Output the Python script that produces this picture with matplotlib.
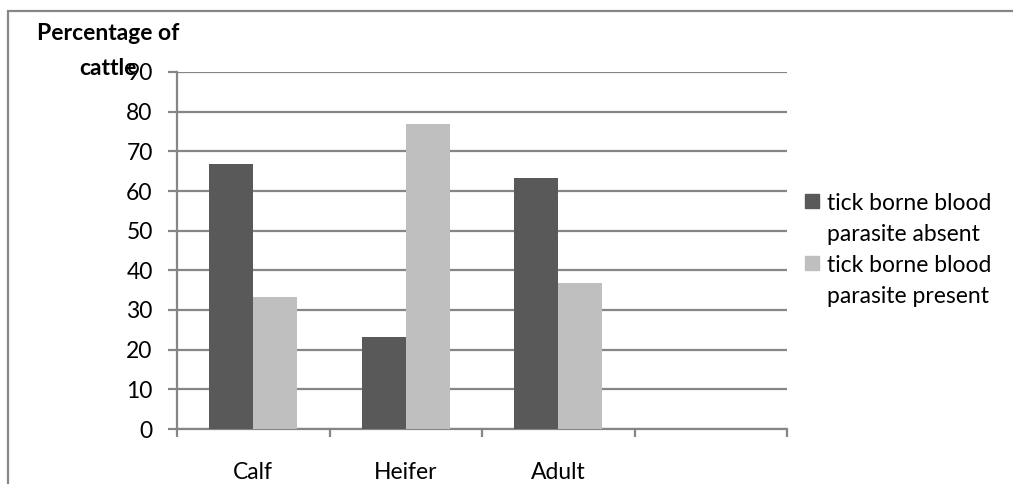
import matplotlib
matplotlib.use("Agg")
import matplotlib.pyplot as plt
from matplotlib.patches import Rectangle
import numpy as np

plt.rcParams['font.family'] = ['Lato', 'DejaVu Sans']

categories = ["Calf", "Heifer", "Adult", ""]
absent = [66.7, 23.1, 63.3]
present = [33.3, 76.9, 36.7]
series_labels = ["tick borne blood\nparasite absent", "tick borne blood\nparasite present"]
series_colors = ["#595959", "#BFBFBF"]
yticks = list(range(0, 100, 10))
title_lines = ["Percentage of", "cattle"]

W, H = 1013, 484
FS = 16.5
fig = plt.figure(figsize=(W / 100, H / 100), dpi=100)
ax = fig.add_axes([177 / W, 1 - 429 / H, (787 - 177) / W, (429 - 72) / H])

grid_color = "#868686"
bar_w = 0.289
x = np.arange(len(absent))
ax.bar(x - bar_w / 2, absent, width=bar_w, color=series_colors[0], zorder=3)
ax.bar(x + bar_w / 2, present, width=bar_w, color=series_colors[1], zorder=3)

ax.set_xlim(-0.5, len(categories) - 0.5)
ax.set_ylim(0, 90)
ax.set_yticks(yticks)
ax.yaxis.grid(True, color=grid_color, linewidth=1.6, zorder=0)
ax.set_axisbelow(True)

# category boundaries carry the tick marks, the centres carry the names
ax.set_xticks(np.arange(len(categories) + 1) - 0.5)
ax.set_xticklabels([])
ax.set_xticks(np.arange(len(categories)), minor=True)
ax.set_xticklabels(categories, minor=True)
ax.tick_params(axis='x', which='major', length=6, width=1.6, color=grid_color, direction='out')
ax.tick_params(axis='x', which='minor', length=0, pad=24, labelsize=FS)
ax.tick_params(axis='y', length=6.5, width=1.6, color=grid_color, direction='out',
               pad=11, labelsize=FS)

for side in ("top", "right"):
    ax.spines[side].set_visible(False)
for side in ("left", "bottom"):
    ax.spines[side].set_color(grid_color)
    ax.spines[side].set_linewidth(1.6)

# axis title, two lines written horizontally above the value axis
for line, base in zip(title_lines, (40, 75)):
    fig.text(108 / W, 1 - base / H, line, ha='center', va='baseline',
             fontsize=FS, fontweight='bold')

# legend entries: square aligned with the first line of each label
for i, (lab, col) in enumerate(zip(series_labels, series_colors)):
    off = i * 62
    fig.patches.append(Rectangle((805 / W, 1 - (208 + off) / H), 14 / W, 14 / H,
                                 transform=fig.transFigure, color=col))
    first, second = lab.split("\n")
    fig.text(827 / W, 1 - (210 + off) / H, first, ha='left', va='baseline', fontsize=FS)
    fig.text(827 / W, 1 - (241 + off) / H, second, ha='left', va='baseline', fontsize=FS)

# chart frame
fig.patches.append(Rectangle((8 / W, -0.1), 1.1, 1 - 11 / H + 0.1, transform=fig.transFigure,
                             fill=False, edgecolor=grid_color, linewidth=1.6))

fig.savefig("out.png", dpi=100)
